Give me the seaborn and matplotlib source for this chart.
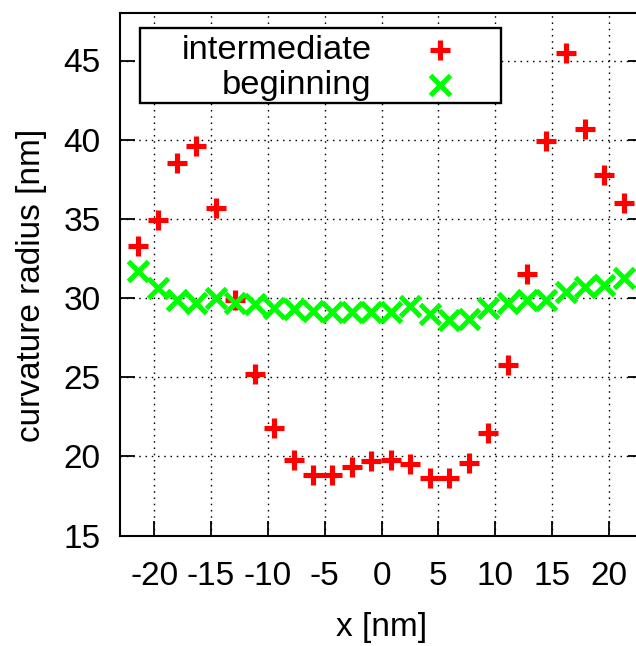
import matplotlib
matplotlib.use("Agg")
import matplotlib.pyplot as plt
from matplotlib.path import Path
import numpy as np
import pandas as pd
import seaborn as sns

# Curvature radius profiles across the film, two growth stages
x_nm = [-21.4, -19.7, -18.0, -16.3, -14.6, -12.9, -11.1, -9.45, -7.7, -6.0,
        -4.35, -2.6, -0.9, 0.8, 2.5, 4.25, 5.95, 7.7, 9.4, 11.1,
        12.8, 14.5, 16.2, 17.9, 19.6, 21.3]
intermediate = [33.3, 34.9, 38.5, 39.6, 35.7, 29.9, 25.2, 21.8, 19.8, 18.8,
                18.8, 19.3, 19.7, 19.8, 19.5, 18.6, 18.6, 19.6, 21.5, 25.8,
                31.5, 39.9, 45.5, 40.7, 37.8, 36.0]
beginning = [31.7, 30.6, 29.9, 29.7, 30.0, 29.7, 29.6, 29.4, 29.3, 29.2,
             29.1, 29.1, 29.1, 29.1, 29.5, 29.0, 28.6, 28.7, 29.4, 29.7,
             29.9, 29.9, 30.4, 30.7, 30.85, 31.25]

series_names = ["intermediate", "beginning"]
x_ticks = [-20, -15, -10, -5, 0, 5, 10, 15, 20]
y_ticks = [15, 20, 25, 30, 35, 40, 45]

df_int = pd.DataFrame({"x": x_nm, "r": intermediate})
df_beg = pd.DataFrame({"x": x_nm, "r": beginning})

sns.set_theme(style="white")
plt.rcParams["font.family"] = ["Liberation Sans", "DejaVu Sans"]
FS = 24
FS_LEG = 24.8

fig = plt.figure(figsize=(6.36, 6.46), dpi=100)
W, H = 636.0, 646.0
ax = fig.add_axes([120 / W, 110.5 / H, 523 / W, 522.5 / H])

sns.scatterplot(data=df_int, x="x", y="r", ax=ax, marker="+", color="#ff0000",
                s=14.8 ** 2, linewidth=3.7, label=series_names[0], zorder=3)
sns.scatterplot(data=df_beg, x="x", y="r", ax=ax, marker="x", color="#00ff00",
                s=14.4 ** 2, linewidth=3.6, label=series_names[1], zorder=4)

ax.set_xlim(-23, 23)
ax.set_ylim(15, 48)
ax.set_xticks(x_ticks)
ax.set_yticks(y_ticks)
ax.set_xticklabels([str(t) for t in x_ticks])
ax.set_yticklabels([str(t) for t in y_ticks])

ax.grid(True, color="black", linewidth=1.0, linestyle=(0, (1.1, 3.4)))
ax.set_axisbelow(True)

for side in ["top", "left", "bottom", "right"]:
    ax.spines[side].set_visible(True)
    ax.spines[side].set_color("black")
    ax.spines[side].set_linewidth(1.5)

ax.tick_params(axis="y", which="both", direction="in", length=11, width=1.3,
               left=True, right=True, labelsize=FS, pad=14.0, colors="black")
ax.tick_params(axis="x", which="both", direction="in", length=11, width=1.3,
               bottom=True, top=False, labelsize=FS, pad=18.5, colors="black")

ax.set_xlabel("x [nm]", fontsize=FS, color="black", va="center")
ax.xaxis.set_label_coords(0.5, -0.176)
ax.set_ylabel("curvature radius [nm]", fontsize=FS, color="black", va="center")
ax.yaxis.set_label_coords(-0.17, 0.479)

leg = ax.legend(loc="upper left", bbox_to_anchor=(0.118, 0.958),
                markerfirst=False, fontsize=FS_LEG, frameon=True, fancybox=False,
                borderpad=0.0, labelspacing=0.1, handlelength=1.0,
                handletextpad=1.47, borderaxespad=0.0, framealpha=1.0,
                edgecolor="black", facecolor="white")
for t in leg.get_texts():
    t.set_color("black")


def legend_frame(x0, y0, width, height, mutation_size):
    # rectangle with separate side paddings (in units of the font size)
    left, right, top, bottom = 1.22, 1.28, 0.2, 0.06
    xa = x0 - left * mutation_size
    xb = x0 + width + right * mutation_size
    ya = y0 - bottom * mutation_size
    yb = y0 + height + top * mutation_size
    return Path([(xa, ya), (xb, ya), (xb, yb), (xa, yb), (xa, ya)],
                closed=True)


frame = leg.get_frame()
frame.set_boxstyle(legend_frame)
frame.set_linewidth(1.7)

fig.savefig("out.png", dpi=100)
